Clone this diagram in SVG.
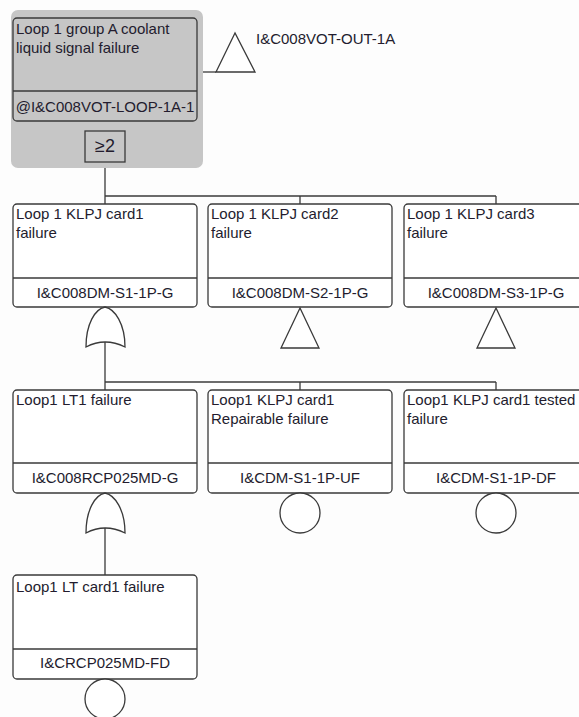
<svg xmlns="http://www.w3.org/2000/svg" width="579" height="717" viewBox="0 0 579 717">
<style>
  .bg { fill: #fdfdfd; }
  .box { fill: #ffffff; stroke: #3a3a3a; stroke-width: 1.3; }
  .boxg { fill: #c6c6c6; stroke: #3a3a3a; stroke-width: 1.3; }
  .ln { stroke: #3a3a3a; stroke-width: 1.3; fill: none; }
  .sym { fill: #ffffff; stroke: #3a3a3a; stroke-width: 1.3; }
  .t { font-family: "Liberation Sans", Arial, sans-serif; font-size: 15px; fill: #231c2e; }
  .c { text-anchor: middle; }
</style>
<rect class="bg" x="0" y="0" width="579" height="717"/>

<g id="connectors">
  <line class="ln" x1="197" y1="72" x2="216" y2="72"/>
  <line class="ln" x1="105" y1="121" x2="105" y2="131"/>
  <line class="ln" x1="105" y1="162" x2="105" y2="196"/>
  <line class="ln" x1="105" y1="196" x2="496" y2="196"/>
  <line class="ln" x1="105" y1="196" x2="105" y2="204"/>
  <line class="ln" x1="300" y1="196" x2="300" y2="204"/>
  <line class="ln" x1="496" y1="196" x2="496" y2="204"/>
  <line class="ln" x1="105" y1="342" x2="105" y2="382"/>
  <line class="ln" x1="105" y1="382" x2="496" y2="382"/>
  <line class="ln" x1="105" y1="382" x2="105" y2="390"/>
  <line class="ln" x1="300" y1="382" x2="300" y2="390"/>
  <line class="ln" x1="496" y1="382" x2="496" y2="390"/>
  <line class="ln" x1="105" y1="528" x2="105" y2="575"/>
</g>

<g id="top-event">
  <rect x="11" y="10" width="192" height="158" rx="7" fill="#c6c6c6"/>
  <rect class="boxg" x="13" y="18" width="184" height="103" rx="4"/>
  <line class="ln" x1="13" y1="91" x2="197" y2="91"/>
  <text class="t" x="16" y="34">Loop 1 group A coolant</text>
  <text class="t" x="16" y="53">liquid signal failure</text>
  <text class="t c" x="105" y="112">@I&amp;C008VOT-LOOP-1A-1</text>
  <rect class="boxg" x="85" y="131" width="40" height="31"/>
  <text class="t c" x="105" y="152" style="font-size:18px">≥2</text>
</g>

<g id="transfer-out">
  <polygon class="sym" points="235,33 216,72 255,72"/>
  <text class="t" x="256" y="44">I&amp;C008VOT-OUT-1A</text>
</g>

<g id="card1">
  <rect class="box" x="13" y="204" width="184" height="103" rx="4"/>
  <line class="ln" x1="13" y1="278" x2="197" y2="278"/>
  <text class="t" x="16" y="219">Loop 1 KLPJ card1</text>
  <text class="t" x="16" y="238">failure</text>
  <text class="t c" x="105" y="298">I&amp;C008DM-S1-1P-G</text>
  <path class="sym" d="M105,307 C95,309 86,324 86,347 Q105,337 125,347 C125,324 115,309 105,307 Z"/>
</g>

<g id="card2">
  <rect class="box" x="208" y="204" width="184" height="103" rx="4"/>
  <line class="ln" x1="208" y1="278" x2="392" y2="278"/>
  <text class="t" x="211" y="219">Loop 1 KLPJ card2</text>
  <text class="t" x="211" y="238">failure</text>
  <text class="t c" x="300" y="298">I&amp;C008DM-S2-1P-G</text>
  <polygon class="sym" points="300,308 281,348 319,348"/>
</g>

<g id="card3">
  <rect class="box" x="404" y="204" width="184" height="103" rx="4"/>
  <line class="ln" x1="404" y1="278" x2="588" y2="278"/>
  <text class="t" x="407" y="219">Loop 1 KLPJ card3</text>
  <text class="t" x="407" y="238">failure</text>
  <text class="t c" x="496" y="298">I&amp;C008DM-S3-1P-G</text>
  <polygon class="sym" points="496,308 477,348 515,348"/>
</g>

<g id="lt1">
  <rect class="box" x="13" y="390" width="184" height="103" rx="4"/>
  <line class="ln" x1="13" y1="463" x2="197" y2="463"/>
  <text class="t" x="16" y="405">Loop1 LT1 failure</text>
  <text class="t c" x="105" y="483">I&amp;C008RCP025MD-G</text>
  <path class="sym" d="M105,493 C95,495 86,510 86,533 Q105,523 125,533 C125,510 115,495 105,493 Z"/>
</g>

<g id="card1-repairable">
  <rect class="box" x="208" y="390" width="184" height="103" rx="4"/>
  <line class="ln" x1="208" y1="463" x2="392" y2="463"/>
  <text class="t" x="211" y="405">Loop1 KLPJ card1</text>
  <text class="t" x="211" y="424">Repairable failure</text>
  <text class="t c" x="300" y="483">I&amp;CDM-S1-1P-UF</text>
  <circle class="sym" cx="300" cy="513" r="20"/>
</g>

<g id="card1-tested">
  <rect class="box" x="404" y="390" width="184" height="103" rx="4"/>
  <line class="ln" x1="404" y1="463" x2="588" y2="463"/>
  <text class="t" x="407" y="405">Loop1 KLPJ card1 tested</text>
  <text class="t" x="407" y="424">failure</text>
  <text class="t c" x="496" y="483">I&amp;CDM-S1-1P-DF</text>
  <circle class="sym" cx="496" cy="513" r="20"/>
</g>

<g id="lt-card1">
  <rect class="box" x="13" y="575" width="184" height="104" rx="4"/>
  <line class="ln" x1="13" y1="649" x2="197" y2="649"/>
  <text class="t" x="16" y="592">Loop1 LT card1 failure</text>
  <text class="t c" x="105" y="668">I&amp;CRCP025MD-FD</text>
  <circle class="sym" cx="105" cy="699" r="20"/>
</g>
</svg>
